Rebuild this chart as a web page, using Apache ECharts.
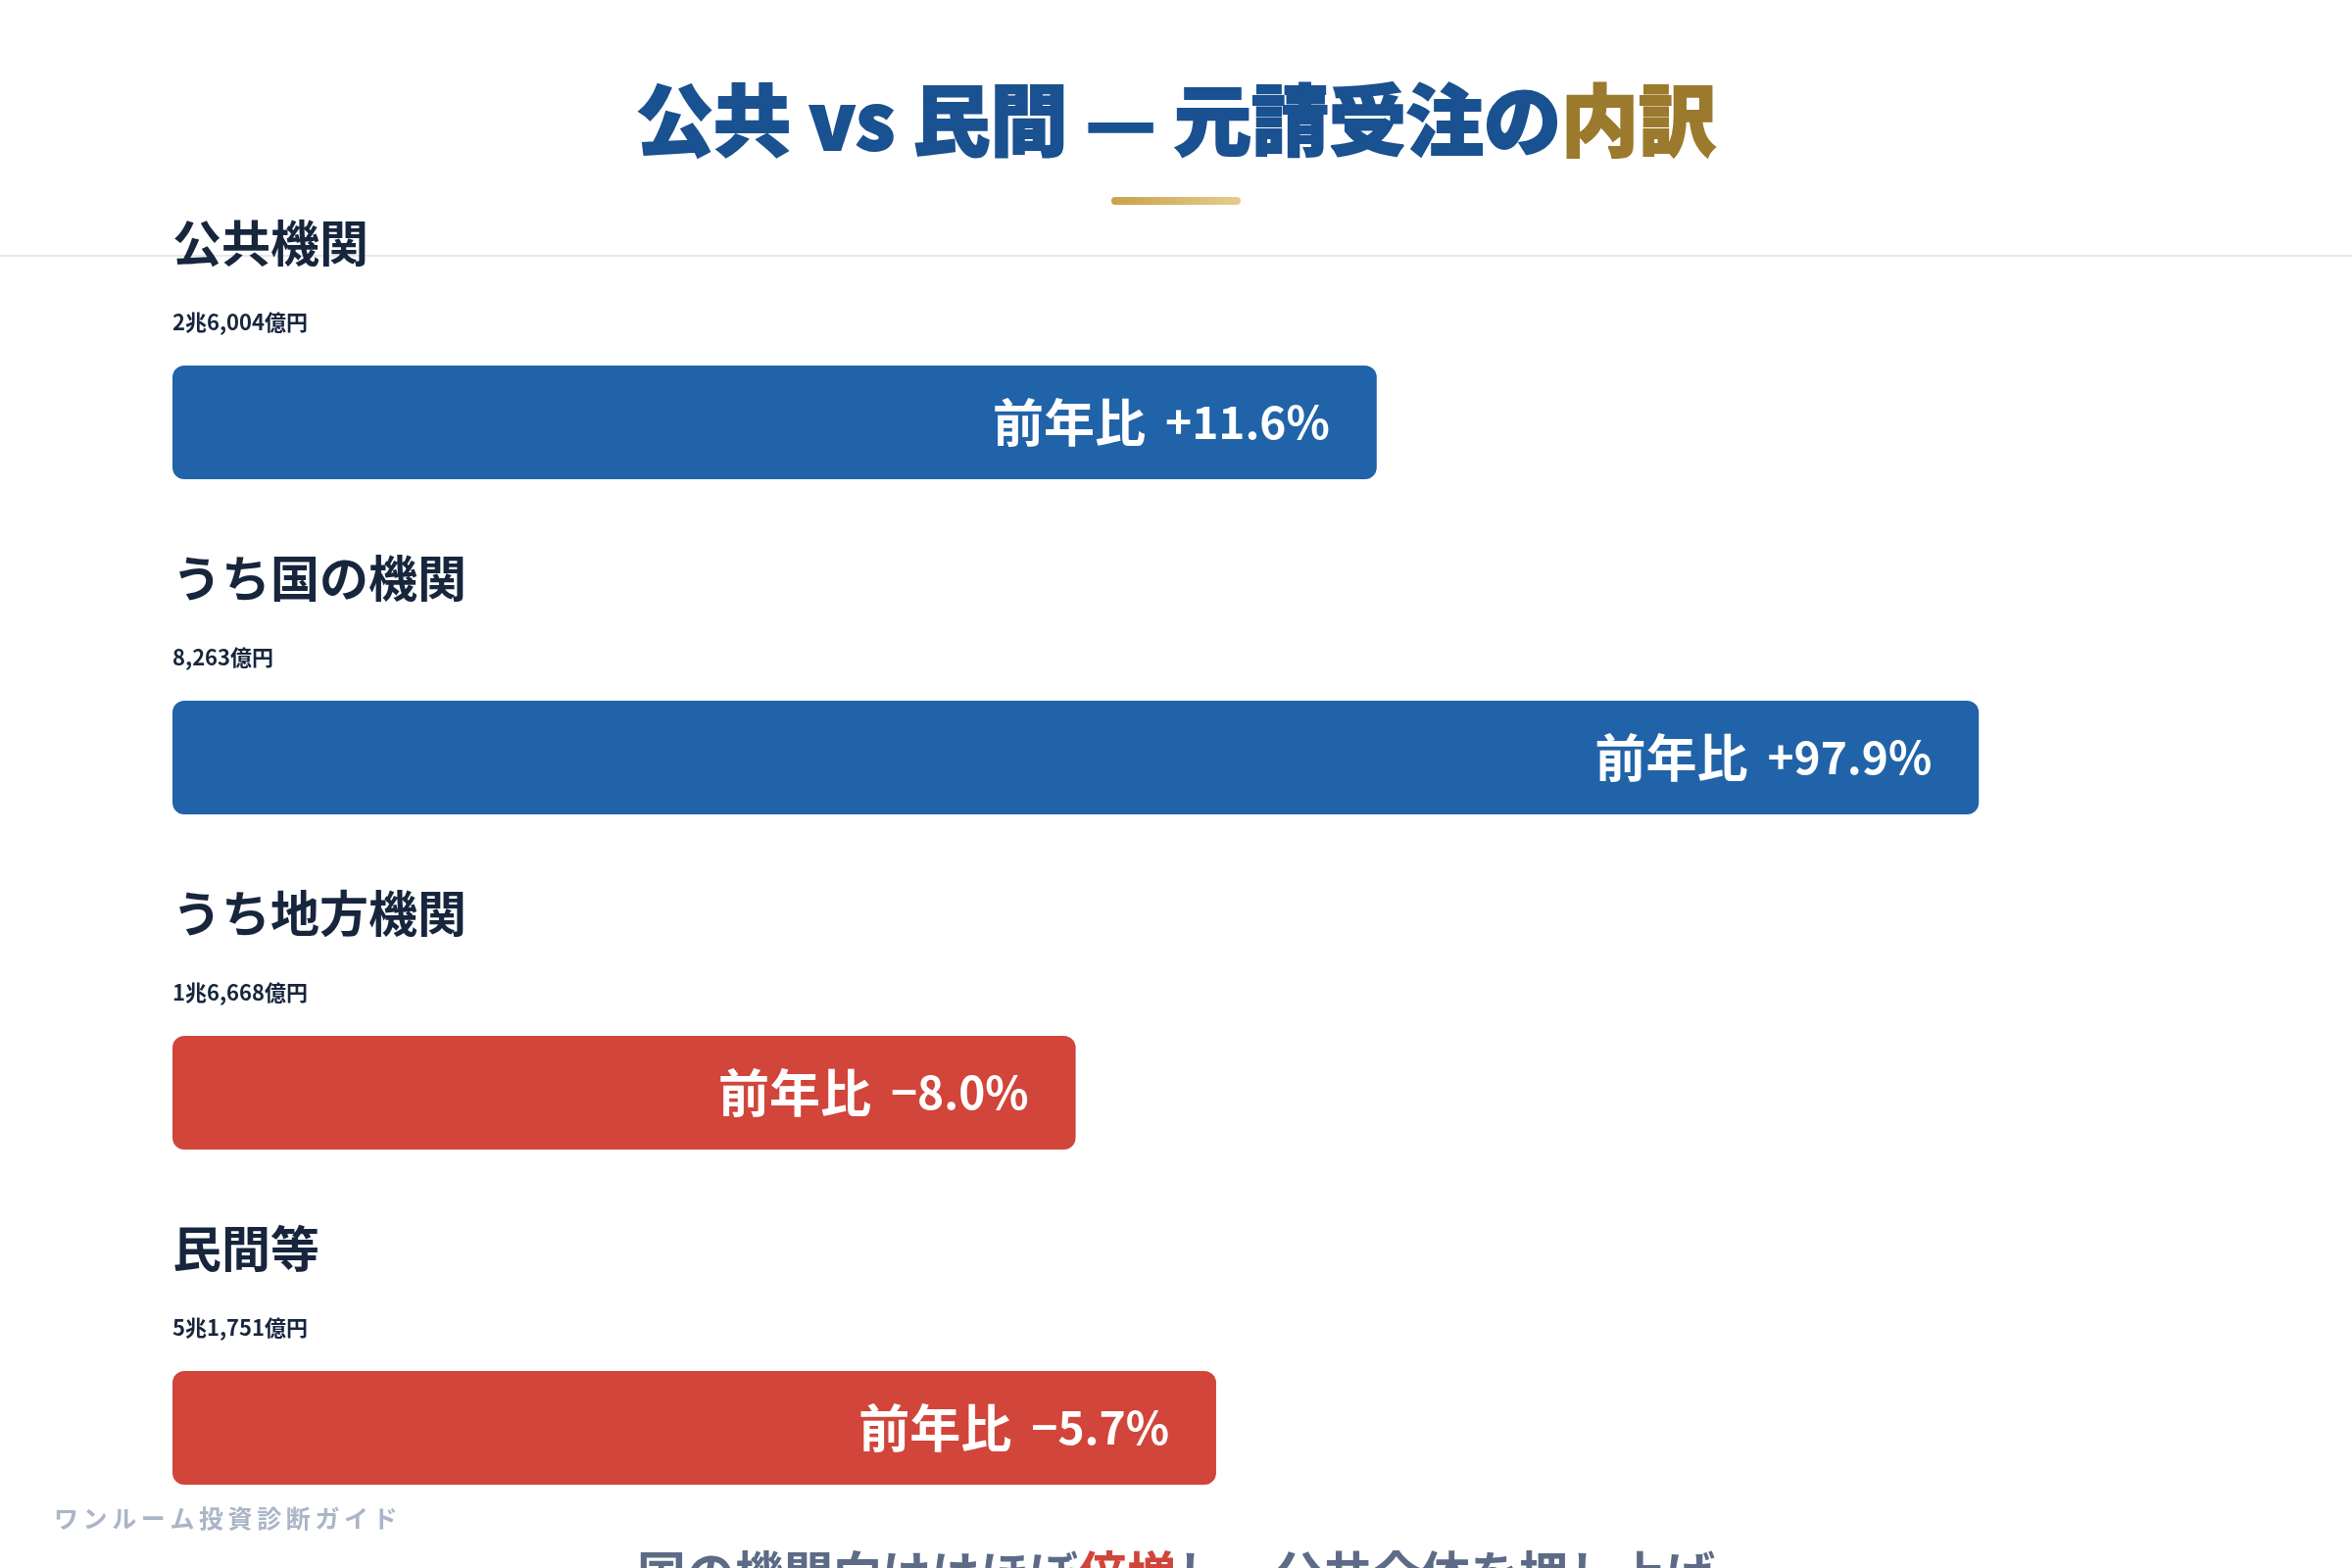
<!DOCTYPE html>
<html>
<head>
<meta charset="utf-8">
<style>
html,body{margin:0;padding:0;background:#ffffff;}
#chart{width:2400px;height:1600px;}
</style>
<script src="https://cdn.jsdelivr.net/npm/echarts@6/dist/echarts.min.js"></script>
</head>
<body>
<div id="chart"></div>
<script>
// ---- data ----
const categories = ['公共機関', 'うち国の機関', 'うち地方機関', '民間等'];
const amountLabels = ['2兆6,004億円', '8,263億円', '1兆6,668億円', '5兆1,751億円'];
const yoyChange = [11.6, 97.9, -8.0, -5.7];
const barLengths = [60, 90, 45, 52];   // bar length as % of track
const watermark = 'ワンルーム投資診断ガイド';

const FONT = '"Noto Sans CJK JP", "Noto Sans", sans-serif';
const BLACKFONT = '"Noto Sans CJK JP Black", "Noto Sans CJK JP", "Noto Sans", sans-serif';
const BLUE = '#2163A8';
const RED = '#D1453B';

function fmtChange(v) {
  return '{a|前年比}{b|' + (v >= 0 ? '+' : '−') + Math.abs(v).toFixed(1) + '%}';
}

const mainData = barLengths.map((v, i) => ({
  value: v,
  itemStyle: { color: yoyChange[i] >= 0 ? BLUE : RED }
}));

const chart = echarts.init(document.getElementById('chart'), null, { renderer: 'canvas' });

chart.setOption({
  backgroundColor: '#ffffff',
  animation: false,
  title: [
    {
      text: '{a|公共 vs 民間 — 元請受注の}{b|内訳}',
      left: 'center',
      top: 72,
      textStyle: {
        rich: {
          a: { fontFamily: BLACKFONT, fontSize: 79, fontWeight: 900, color: '#1A5190', lineHeight: 92,
               textBorderColor: '#1A5190', textBorderWidth: 2 },
          b: { fontFamily: BLACKFONT, fontSize: 79, fontWeight: 900, color: '#9B7A2D', lineHeight: 92,
               textBorderColor: '#9B7A2D', textBorderWidth: 2 }
        }
      }
    },
    {
      text: watermark.split('').map(c => '{c|' + c + '}').join(''),
      left: 50,
      top: 1529,
      textStyle: {
        rich: {
          c: { fontFamily: FONT, fontSize: 25, fontWeight: 'bold', color: '#AAB5C7', lineHeight: 30, padding: [0, 4.6, 0, 0] }
        }
      }
    },
    {
      text: '{g|国の機関向けはほぼ}{r|倍増}{g|し、公共全体を押し上げ}',
      left: 'center',
      top: 1576,
      textStyle: {
        rich: {
          g: { fontFamily: FONT, fontSize: 50, fontWeight: 'bold', color: '#5D6B86', lineHeight: 50 },
          r: { fontFamily: FONT, fontSize: 50, fontWeight: 'bold', color: '#D0453A', lineHeight: 50 }
        }
      }
    }
  ],
  graphic: [
    {
      type: 'rect',
      z: 0,
      shape: { x: 1134, y: 201, width: 132, height: 8, r: 4 },
      style: {
        fill: new echarts.graphic.LinearGradient(0, 0, 1, 0, [
          { offset: 0, color: '#C9A24A' },
          { offset: 1, color: '#E6CC8C' }
        ])
      }
    },
    {
      type: 'rect',
      z: 0,
      shape: { x: 0, y: 260, width: 2400, height: 2 },
      style: { fill: '#E4E7EC' }
    }
  ],
  grid: { left: 176, width: 2048, top: 431, height: 1026, containLabel: false },
  xAxis: { type: 'value', min: 0, max: 100, show: false },
  yAxis: { type: 'category', data: categories, inverse: true, show: false, boundaryGap: false },
  series: [
    {
      type: 'bar',
      data: mainData,
      barWidth: 116,
      barGap: '-100%',
      z: 3,
      itemStyle: { borderRadius: 12 },
      label: {
        show: true,
        position: 'insideRight',
        distance: 48,
        color: '#ffffff',
        formatter: p => fmtChange(yoyChange[p.dataIndex]),
        rich: {
          a: { fontFamily: FONT, fontSize: 52, fontWeight: 'bold', color: '#ffffff', padding: [0, 20, 0, 0] },
          b: { fontFamily: FONT, fontSize: 46, fontWeight: 'bold', color: '#ffffff' }
        }
      }
    },
    {
      type: 'bar',
      data: barLengths,
      barWidth: 116,
      barGap: '-100%',
      z: 2,
      itemStyle: { color: 'rgba(0,0,0,0)' },
      silent: true,
      label: {
        show: true,
        position: [0, -150],
        fontFamily: FONT,
        fontSize: 50,
        fontWeight: 'bold',
        color: '#17263D',
        lineHeight: 50,
        formatter: p => categories[p.dataIndex]
      }
    },
    {
      type: 'bar',
      data: barLengths,
      barWidth: 116,
      barGap: '-100%',
      z: 2,
      itemStyle: { color: 'rgba(0,0,0,0)' },
      silent: true,
      label: {
        show: true,
        position: [0, -55],
        fontFamily: FONT,
        fontSize: 22,
        fontWeight: 'bold',
        color: '#17263D',
        lineHeight: 22,
        formatter: p => amountLabels[p.dataIndex]
      }
    }
  ]
});
</script>
</body>
</html>
